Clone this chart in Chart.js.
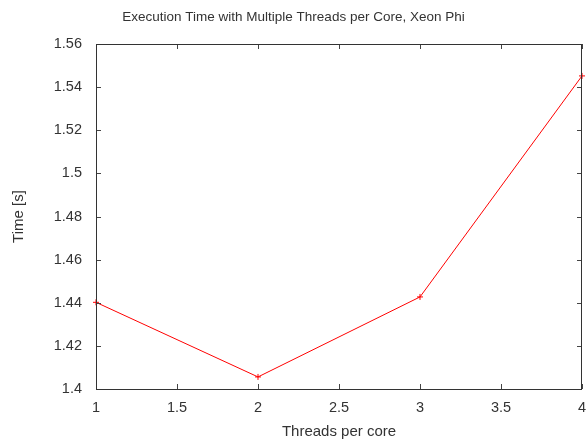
<!DOCTYPE html>
<html>
<head>
<meta charset="utf-8">
<script src="https://cdn.jsdelivr.net/npm/chart.js@4/dist/chart.umd.min.js"></script>
<style>
  html, body { margin: 0; padding: 0; background: #fff; }
  #wrap { width: 587px; height: 441px; }
</style>
</head>
<body>
<div id="wrap"><canvas id="c" width="587" height="441"></canvas></div>
<script>
const threadsPerCore = [1, 2, 3, 4];
const timeSeconds = [1.4402, 1.4056, 1.4427, 1.5452];
const titleText = 'Execution Time with Multiple Threads per Core, Xeon Phi';
const xLabel = 'Threads per core';
const yLabel = 'Time [s]';

const FONT = "'Liberation Sans', Arial, sans-serif";
const TEXT = '#333';

const frameAndTicks = {
  id: 'frameAndTicks',
  afterDatasetsDraw(chart) {
    const { ctx, chartArea: a, scales } = chart;
    ctx.save();
    ctx.strokeStyle = '#444';
    ctx.lineWidth = 1;
    ctx.beginPath();
    const L = 5;
    scales.x.ticks.forEach(t => {
      const px = Math.round(scales.x.getPixelForValue(t.value)) + 0.5;
      ctx.moveTo(px, a.bottom); ctx.lineTo(px, a.bottom - L);
      ctx.moveTo(px, a.top); ctx.lineTo(px, a.top + L);
    });
    scales.y.ticks.forEach(t => {
      const py = Math.round(scales.y.getPixelForValue(t.value)) + 0.5;
      ctx.moveTo(a.left, py); ctx.lineTo(a.left + L, py);
      ctx.moveTo(a.right, py); ctx.lineTo(a.right - L, py);
    });
    ctx.stroke();
    ctx.strokeStyle = '#333';
    ctx.strokeRect(Math.round(a.left) + 0.5, Math.round(a.top) + 0.5,
                   Math.round(a.right - a.left) - 1, Math.round(a.bottom - a.top));
    ctx.restore();
  }
};

new Chart(document.getElementById('c'), {
  type: 'line',
  data: {
    datasets: [{
      data: threadsPerCore.map((x, i) => ({ x, y: timeSeconds[i] })),
      borderColor: '#ff0000',
      backgroundColor: '#ff0000',
      borderWidth: 1,
      pointStyle: 'cross',
      pointRadius: 3,
      pointBorderWidth: 1,
      pointBorderColor: '#ff0000',
      tension: 0,
      fill: false,
      clip: false
    }]
  },
  options: {
    responsive: false,
    animation: false,
    devicePixelRatio: 1,
    layout: { padding: 0 },
    plugins: {
      legend: { display: false },
      tooltip: { enabled: false },
      title: {
        display: true,
        text: titleText,
        color: TEXT,
        font: { family: FONT, size: 13.5, weight: 'normal', lineHeight: 1.2 },
        padding: { top: 9, bottom: 18.8 }
      }
    },
    scales: {
      x: {
        type: 'linear',
        min: 1, max: 4,
        grid: { display: false, drawTicks: false },
        border: { display: false },
        ticks: {
          stepSize: 0.5,
          padding: 10,
          color: TEXT,
          font: { family: FONT, size: 14.5 },
          maxRotation: 0,
          callback: v => String(+v.toFixed(2))
        },
        title: {
          display: true, text: xLabel, color: TEXT,
          font: { family: FONT, size: 15, lineHeight: 1.2 },
          padding: { top: 0, bottom: 0 }
        },
        afterFit(s) { s.height = 52; s.paddingLeft = 0; s.paddingRight = 0; }
      },
      y: {
        type: 'linear',
        min: 1.4, max: 1.56,
        grid: { display: false, drawTicks: false },
        border: { display: false },
        ticks: {
          stepSize: 0.02,
          padding: 14,
          color: TEXT,
          font: { family: FONT, size: 14.5 },
          callback: v => String(+v.toFixed(2))
        },
        title: {
          display: true, text: yLabel, color: TEXT,
          font: { family: FONT, size: 15, lineHeight: 1.2 },
          padding: { top: 9.5, bottom: 0 }
        },
        afterFit(s) { s.width = 96; s.paddingTop = 0; s.paddingBottom = 0; }
      }
    }
  },
  plugins: [frameAndTicks]
});
</script>
</body>
</html>
